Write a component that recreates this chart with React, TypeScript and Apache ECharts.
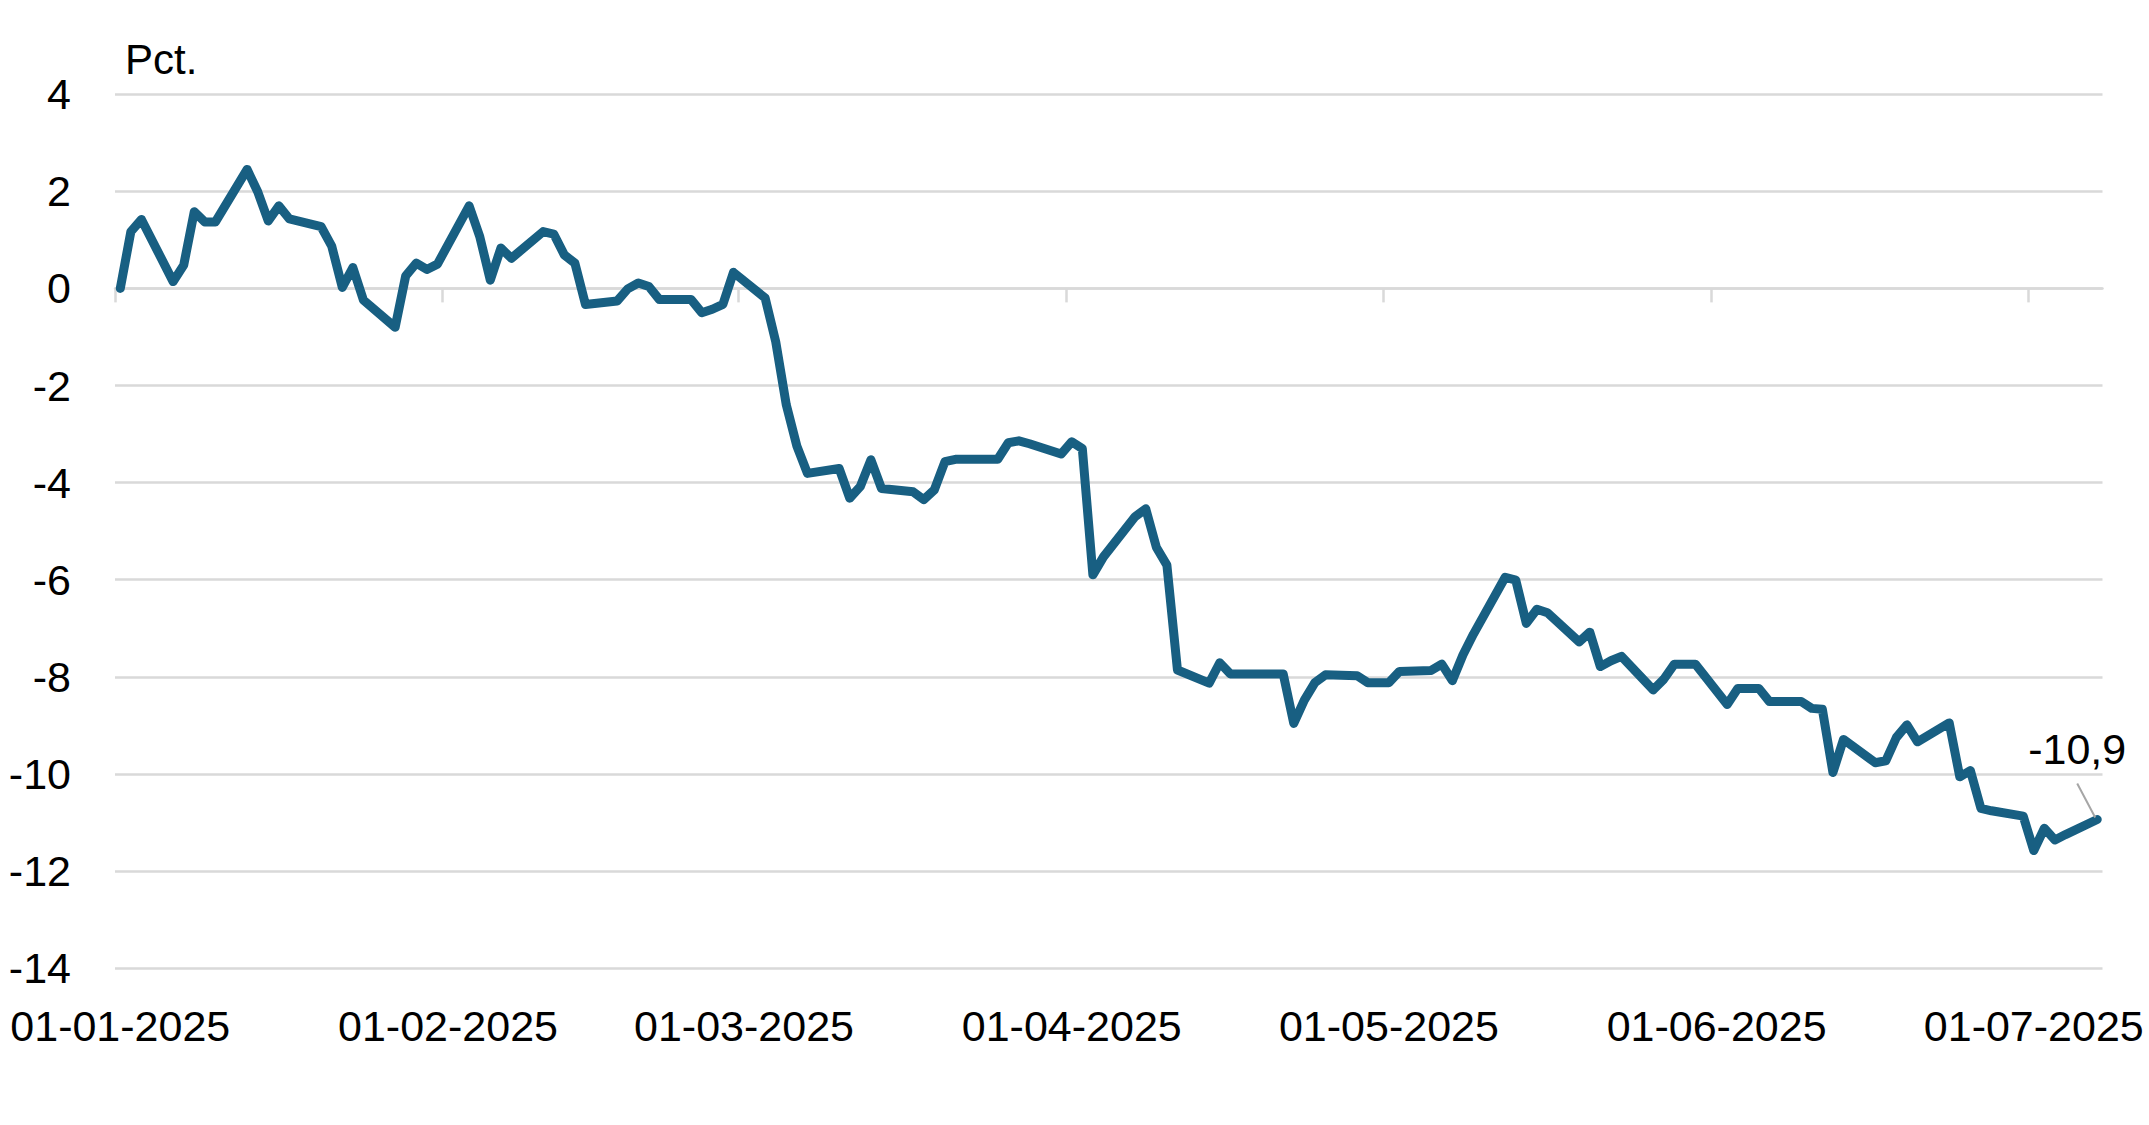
import React, { useEffect, useRef } from "react";
import * as echarts from "echarts";

// ---- Data (percent change since 01-01-2025), one value per weekday ----
const dates: string[] = [
  "2025-01-01","2025-01-02","2025-01-03","2025-01-06","2025-01-07","2025-01-08","2025-01-09","2025-01-10",
  "2025-01-13","2025-01-14","2025-01-15","2025-01-16","2025-01-17","2025-01-20","2025-01-21","2025-01-22",
  "2025-01-23","2025-01-24","2025-01-27","2025-01-28","2025-01-29","2025-01-30","2025-01-31",
  "2025-02-03","2025-02-04","2025-02-05","2025-02-06","2025-02-07","2025-02-10","2025-02-11","2025-02-12",
  "2025-02-13","2025-02-14","2025-02-17","2025-02-18","2025-02-19","2025-02-20","2025-02-21","2025-02-24",
  "2025-02-25","2025-02-26","2025-02-27","2025-02-28",
  "2025-03-03","2025-03-04","2025-03-05","2025-03-06","2025-03-07","2025-03-10","2025-03-11","2025-03-12",
  "2025-03-13","2025-03-14","2025-03-17","2025-03-18","2025-03-19","2025-03-20","2025-03-21","2025-03-24",
  "2025-03-25","2025-03-26","2025-03-27","2025-03-28","2025-03-31",
  "2025-04-01","2025-04-02","2025-04-03","2025-04-04","2025-04-07","2025-04-08","2025-04-09","2025-04-10",
  "2025-04-11","2025-04-14","2025-04-15","2025-04-16","2025-04-17","2025-04-18","2025-04-21","2025-04-22",
  "2025-04-23","2025-04-24","2025-04-25","2025-04-28","2025-04-29","2025-04-30",
  "2025-05-01","2025-05-02","2025-05-05","2025-05-06","2025-05-07","2025-05-08","2025-05-09","2025-05-12",
  "2025-05-13","2025-05-14","2025-05-15","2025-05-16","2025-05-19","2025-05-20","2025-05-21","2025-05-22",
  "2025-05-23","2025-05-26","2025-05-27","2025-05-28","2025-05-29","2025-05-30",
  "2025-06-02","2025-06-03","2025-06-04","2025-06-05","2025-06-06","2025-06-09","2025-06-10","2025-06-11",
  "2025-06-12","2025-06-13","2025-06-16","2025-06-17","2025-06-18","2025-06-19","2025-06-20","2025-06-23",
  "2025-06-24","2025-06-25","2025-06-26","2025-06-27","2025-06-30",
  "2025-07-01","2025-07-02","2025-07-03","2025-07-04","2025-07-07",
];

const values: number[] = [
  // Jan
  0, 1.17, 1.42, 0.14, 0.48, 1.58, 1.37, 1.37,
  2.45, 1.99, 1.39, 1.70, 1.43, 1.27, 0.87, 0.02,
  0.43, -0.24, -0.80, 0.26, 0.52, 0.39, 0.50,
  // Feb
  1.70, 1.07, 0.17, 0.83, 0.62, 1.17, 1.12, 0.69,
  0.52, -0.33, -0.26, -0.01, 0.11, 0.04, -0.23, -0.23,
  -0.50, -0.43, -0.33, 0.33,
  // Mar
  -0.20, -1.10, -2.40, -3.25, -3.81, -3.71, -4.32, -4.08,
  -3.53, -4.12, -4.19, -4.35, -4.15, -3.57, -3.52, -3.52,
  -3.52, -3.18, -3.14, -3.20, -3.41,
  // Apr
  -3.16, -3.30, -5.90, -5.53, -4.70, -4.54, -5.33, -5.70,
  -7.86, -8.13, -7.71, -7.94, -7.94, -7.94, -7.94, -8.96,
  -8.48, -8.12, -7.96, -7.98, -8.12, -8.12,
  // May
  -8.12, -7.89, -7.87, -7.74, -8.08, -7.55, -7.12, -5.95,
  -6.01, -6.90, -6.61, -6.68, -7.28, -7.08, -7.79, -7.67,
  -7.58, -8.27, -8.05, -7.74, -7.74, -7.74,
  // Jun
  -8.57, -8.24, -8.24, -8.24, -8.51, -8.51, -8.65, -8.67,
  -9.97, -9.29, -9.77, -9.73, -9.25, -8.99, -9.34, -8.95,
  -10.06, -9.93, -10.71, -10.76, -10.87,
  // Jul
  -11.58, -11.12, -11.36, -11.25, -10.94,
];

const monthStarts: string[] = [
  "2025-01-01","2025-02-01","2025-03-01","2025-04-01","2025-05-01","2025-06-01","2025-07-01",
];

const yMin = -14;
const yMax = 4;
const yInterval = 2;
const unitLabel = "Pct.";

const DAY = 86400000;
const FONT = "'Liberation Sans', Arial, Helvetica, sans-serif";
const LINE_COLOR = "#185f82";
const GRID_COLOR = "#d9d9d9";

function utc(s: string): number {
  const [y, m, d] = s.split("-").map(Number);
  return Date.UTC(y, m - 1, d);
}

function fmtDate(v: number): string {
  const dt = new Date(Math.floor(v / DAY) * DAY);
  const dd = String(dt.getUTCDate()).padStart(2, "0");
  const mm = String(dt.getUTCMonth() + 1).padStart(2, "0");
  return `${dd}-${mm}-${dt.getUTCFullYear()}`;
}

export default function App() {
  const ref = useRef<HTMLDivElement>(null);

  useEffect(() => {
    document.body.style.margin = "0";
    const el = ref.current;
    if (!el) return;
    const chart = echarts.init(el, null, { renderer: "svg" });

    // Points sit in the middle of each day's slot (Excel date axis style)
    const data = dates.map((d, i) => [utc(d) + DAY / 2, values[i]]);
    const xMin = utc(dates[0]);
    const xMax = utc(dates[dates.length - 1]) + DAY;

    chart.setOption({
      animation: false,
      backgroundColor: "#ffffff",
      textStyle: { fontFamily: FONT },
      grid: { left: 115, right: 46.5, top: 94.2, bottom: 156.9, containLabel: false },
      xAxis: [
        {
          type: "value",
          position: "bottom",
          min: xMin,
          max: xMax,
          scale: true,
          axisLine: { show: false, onZero: false },
          axisTick: { show: false },
          splitLine: { show: false },
          axisLabel: {
            customValues: monthStarts.map((m) => utc(m) + DAY / 2),
            formatter: (v: number) => fmtDate(v),
            fontSize: 43,
            fontFamily: FONT,
            color: "#000000",
            margin: 36,
            hideOverlap: false,
            showMinLabel: true,
            showMaxLabel: true,
          },
        },
        {
          type: "value",
          position: "bottom",
          min: xMin,
          max: xMax,
          scale: true,
          axisLine: { show: true, onZero: true, lineStyle: { color: GRID_COLOR, width: 2.5 } },
          axisTick: {
            show: true,
            customValues: monthStarts.map((m) => utc(m)),
            length: 14,
            lineStyle: { color: GRID_COLOR, width: 2.5 },
          },
          axisLabel: { show: false },
          splitLine: { show: false },
        },
      ],
      yAxis: {
        type: "value",
        min: yMin,
        max: yMax,
        interval: yInterval,
        axisLine: { show: false },
        axisTick: { show: false },
        splitLine: { show: true, lineStyle: { color: GRID_COLOR, width: 2.5 } },
        axisLabel: {
          fontSize: 43,
          fontFamily: FONT,
          color: "#000000",
          margin: 44,
        },
      },
      series: [
        {
          type: "line",
          xAxisIndex: 0,
          yAxisIndex: 0,
          data,
          showSymbol: false,
          symbol: "none",
          silent: true,
          z: 5,
          lineStyle: { color: LINE_COLOR, width: 9, cap: "round", join: "round" },
        },
      ],
    });

    const last = data[data.length - 1];
    const p = chart.convertToPixel({ seriesIndex: 0 }, last) as number[];
    const lastText = (last[1] as number).toFixed(1).replace(".", ",");

    chart.setOption({
      graphic: [
        {
          type: "text",
          left: 125,
          top: 38,
          style: {
            text: unitLabel,
            fontSize: 42,
            fontFamily: FONT,
            fill: "#000000",
          },
        },
        {
          type: "line",
          shape: { x1: p[0] - 20, y1: p[1] - 36, x2: p[0] - 2, y2: p[1] - 2 },
          style: { stroke: "#a6a6a6", lineWidth: 2 },
          z: 10,
        },
        {
          type: "text",
          x: p[0] - 20,
          y: p[1] - 71,
          style: {
            text: lastText,
            fontSize: 43,
            fontFamily: FONT,
            fill: "#000000",
            align: "center",
            verticalAlign: "middle",
          },
          z: 10,
        },
      ],
    });

    return () => chart.dispose();
  }, []);

  return (
    <div
      ref={ref}
      style={{ position: "absolute", left: 0, top: 0, width: 2149, height: 1125, background: "#ffffff" }}
    />
  );
}
